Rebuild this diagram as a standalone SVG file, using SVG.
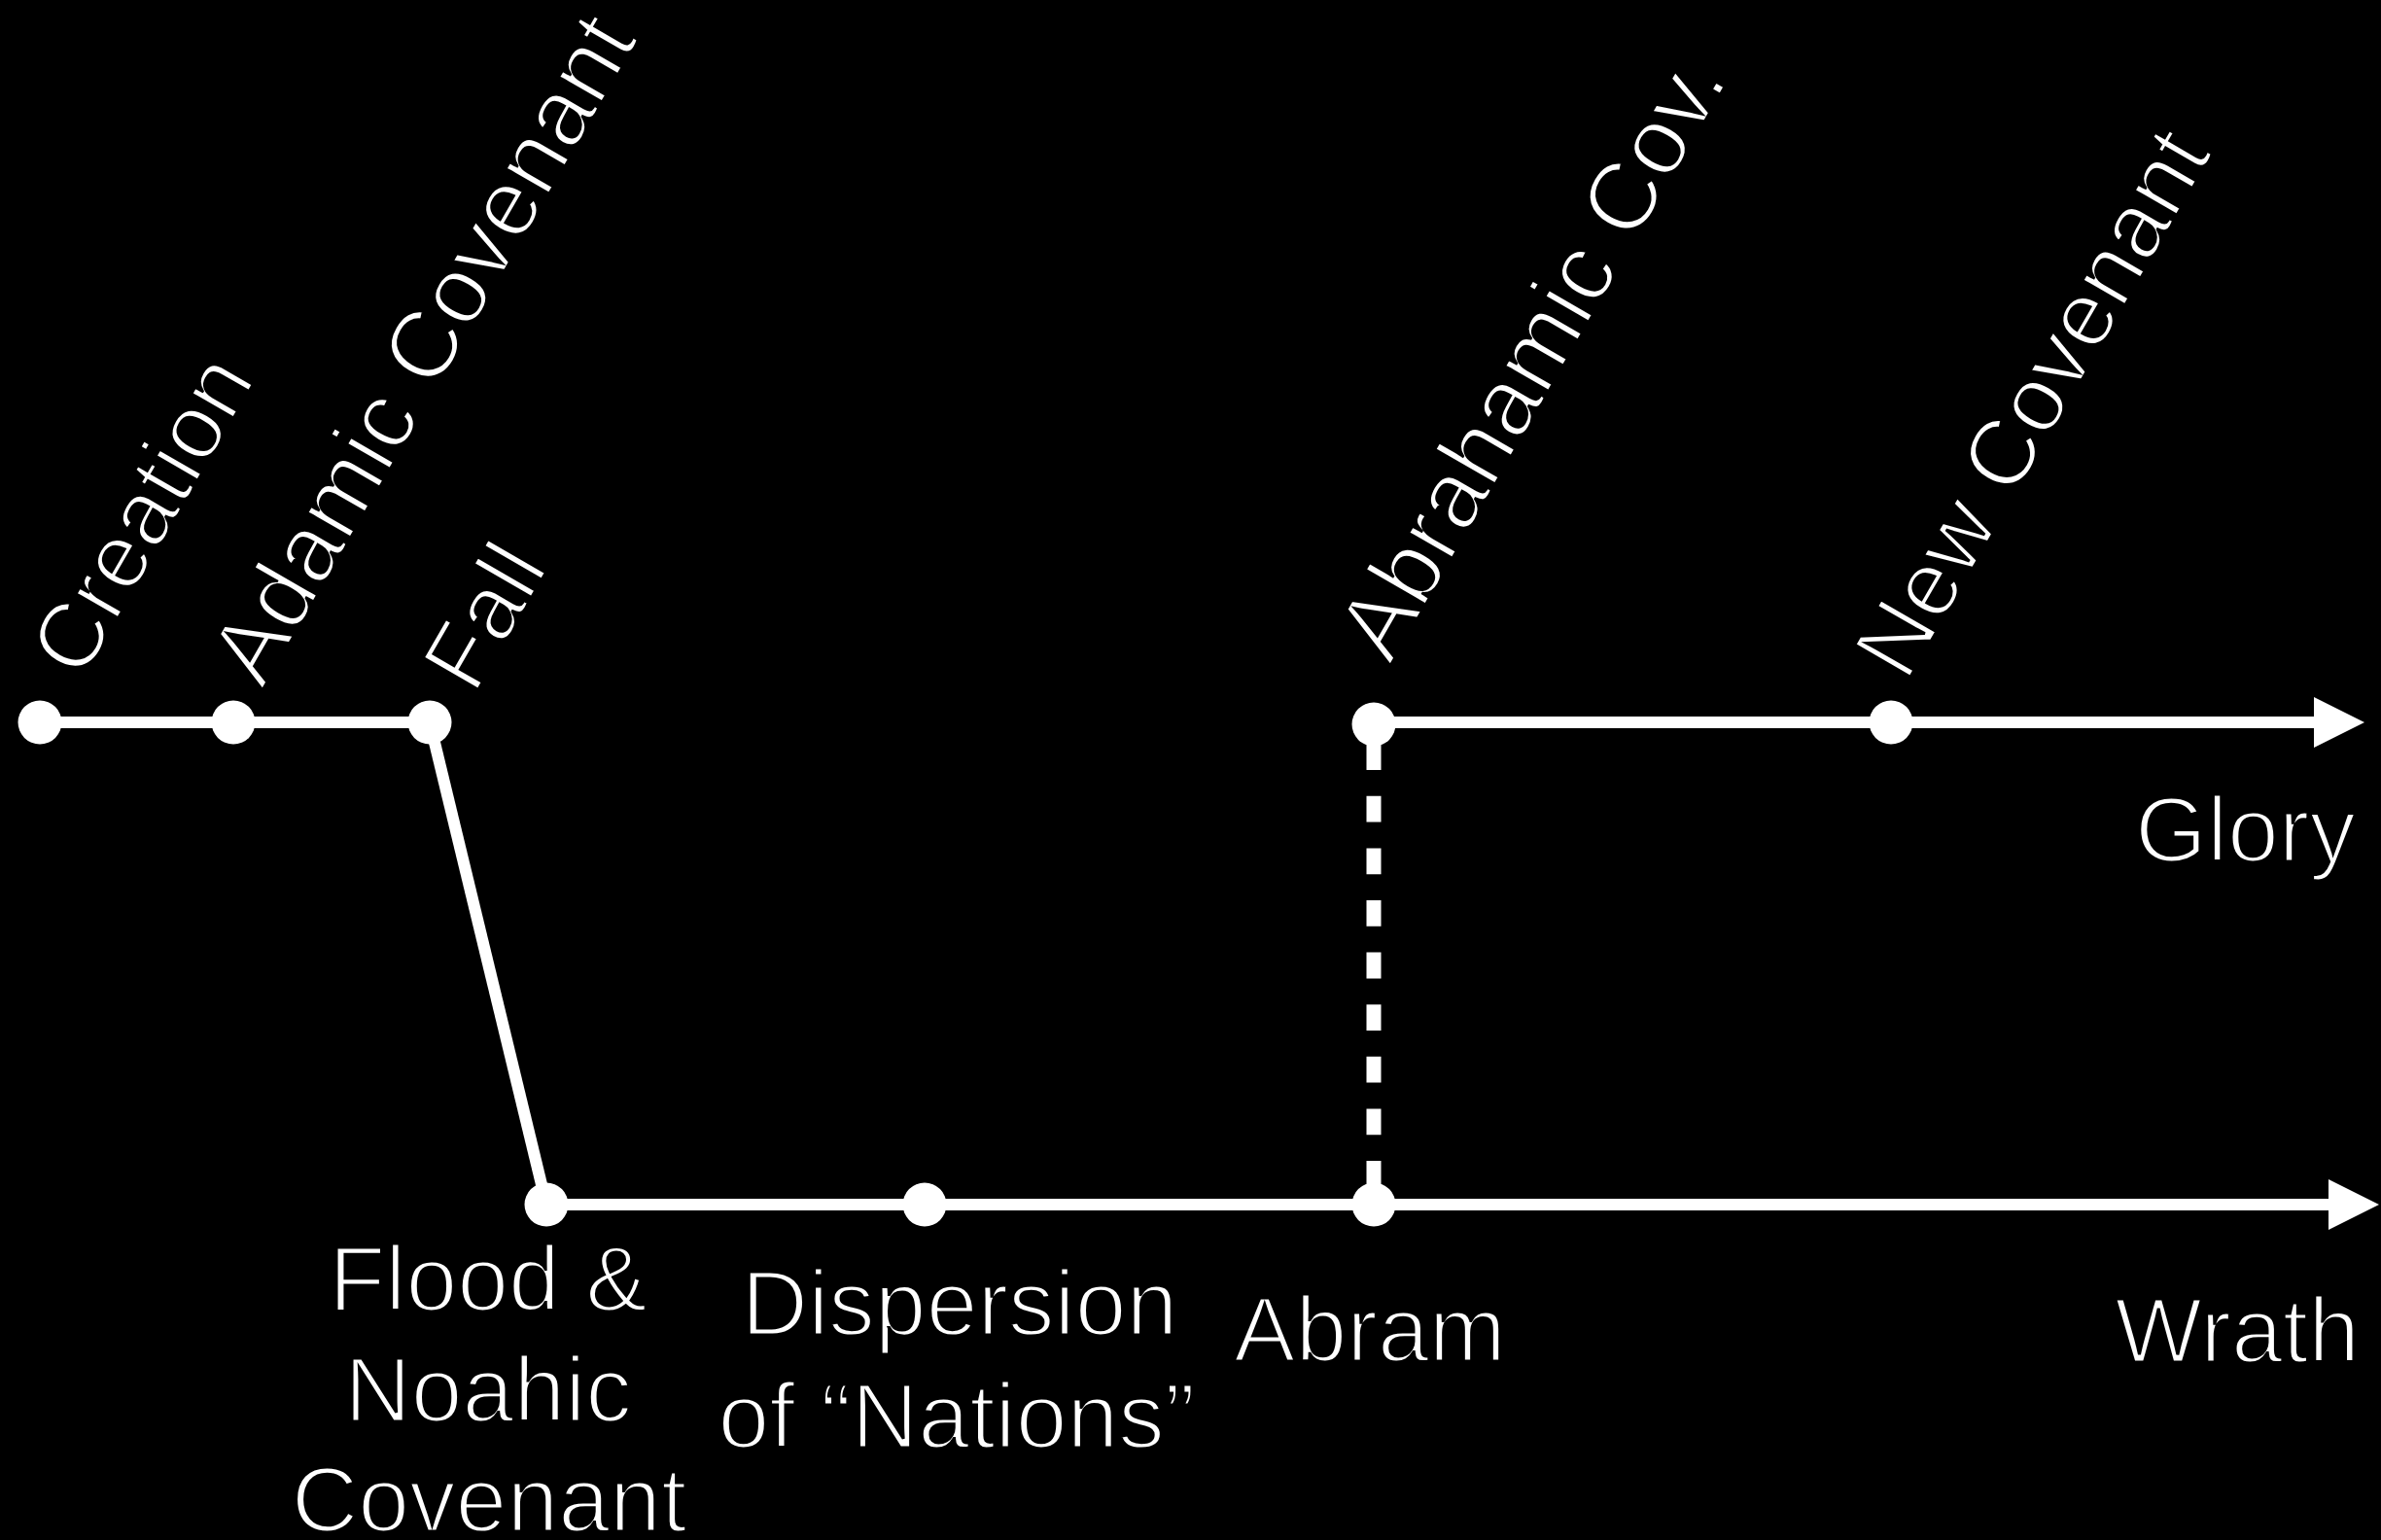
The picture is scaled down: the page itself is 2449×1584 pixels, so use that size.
<svg xmlns="http://www.w3.org/2000/svg" width="2449" height="1584" viewBox="0 0 2449 1584">
  <style>
    .lbl { font-family: "Helvetica Neue", "Liberation Sans", Arial, sans-serif; font-size: 95px; fill: #ffffff; stroke: #000000; stroke-width: 3px; }
    .mid { text-anchor: middle; }
    .end { text-anchor: end; }
    .ln { stroke: #ffffff; stroke-width: 12; fill: none; stroke-linecap: butt; }
    .dash { stroke: #ffffff; stroke-width: 15; fill: none; stroke-dasharray: 26.8 26.8; stroke-dashoffset: 34.4; }
    .dot { fill: #ffffff; }
  </style>
  <defs>
    <marker id="arrow" viewBox="0 -27 54 54" markerWidth="54" markerHeight="54" refX="1" refY="0" markerUnits="userSpaceOnUse" orient="auto">
      <path d="M0,-26 L52,0 L0,26 Z" fill="#ffffff"/>
    </marker>
  </defs>
  <rect x="0" y="0" width="2449" height="1584" fill="#000000"/>

  <g id="connectors">
    <line class="ln" x1="41" y1="743" x2="442" y2="743"/>
    <line class="ln" x1="442" y1="743" x2="562" y2="1239"/>
    <line class="ln" x1="562" y1="1239" x2="2396" y2="1239" marker-end="url(#arrow)"/>
    <line class="ln" x1="1413" y1="743" x2="2381" y2="743" marker-end="url(#arrow)"/>
    <line class="dash" x1="1413" y1="746" x2="1413" y2="1239"/>
  </g>

  <g id="creation">
    <circle class="dot" cx="41" cy="743" r="22.5"/>
    <text class="lbl" transform="translate(84,701) rotate(-60)">Creation</text>
  </g>
  <g id="adamic-covenant">
    <circle class="dot" cx="240" cy="743" r="22.5"/>
    <text class="lbl" style="font-size:98px" transform="translate(270,710) rotate(-60)">Adamic Covenant</text>
  </g>
  <g id="fall">
    <circle class="dot" cx="442" cy="743" r="22.5"/>
    <text class="lbl" transform="translate(488,716) rotate(-60)">Fall</text>
  </g>
  <g id="flood">
    <circle class="dot" cx="562" cy="1239" r="22.5"/>
    <text class="lbl mid" x="502" y="1348">Flood &amp;</text>
    <text class="lbl mid" x="502" y="1462">Noahic</text>
    <text class="lbl mid" x="503" y="1575">Covenant</text>
  </g>
  <g id="dispersion">
    <circle class="dot" cx="951" cy="1239" r="22.5"/>
    <text class="lbl mid" x="987" y="1373">Dispersion</text>
    <text class="lbl mid" x="984" y="1489">of “Nations”</text>
  </g>
  <g id="abram">
    <circle class="dot" cx="1413" cy="1239" r="22.5"/>
    <text class="lbl mid" x="1409" y="1400">Abram</text>
  </g>
  <g id="abrahamic-cov">
    <circle class="dot" cx="1413" cy="745" r="22.5"/>
    <text class="lbl" style="font-size:99px" transform="translate(1430,685) rotate(-60)">Abrahamic Cov.</text>
  </g>
  <g id="new-covenant">
    <circle class="dot" cx="1945" cy="743" r="22.5"/>
    <text class="lbl" style="font-size:96px" transform="translate(1961,703) rotate(-60)">New Covenant</text>
  </g>
  <g id="glory">
    <text class="lbl end" x="2423" y="886">Glory</text>
  </g>
  <g id="wrath">
    <text class="lbl end" x="2427" y="1401">Wrath</text>
  </g>
</svg>
